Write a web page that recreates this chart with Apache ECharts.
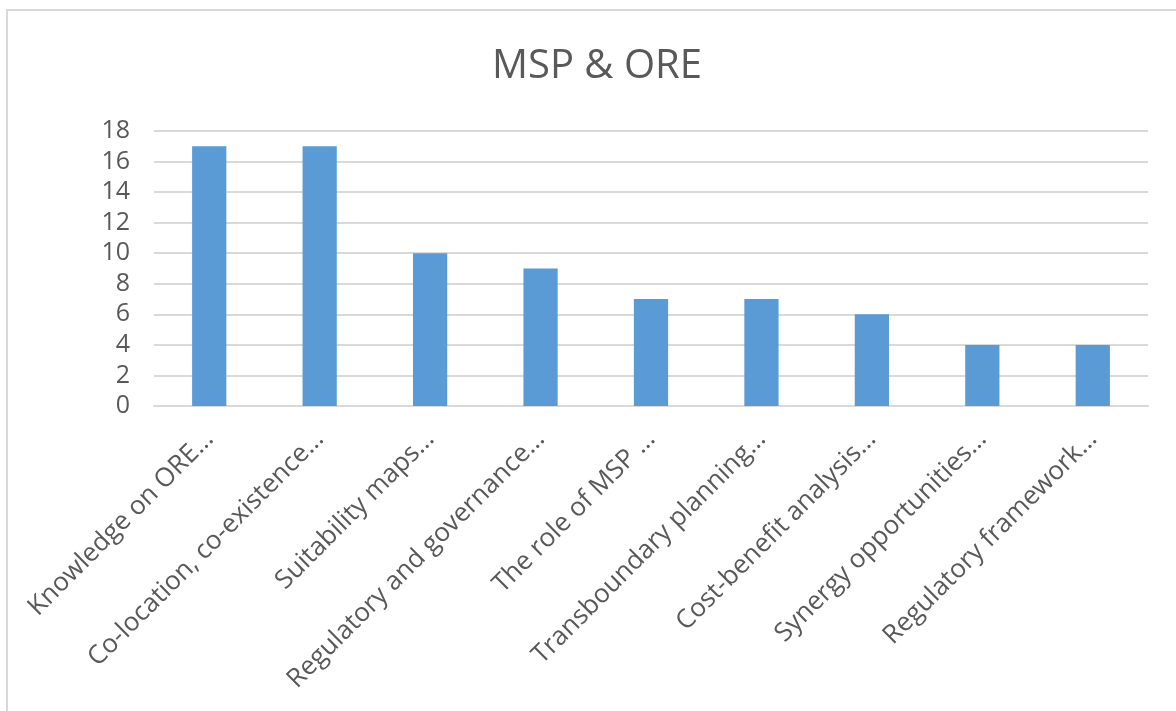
<!DOCTYPE html>
<html>
<head>
<meta charset="utf-8">
<script src="https://cdn.jsdelivr.net/npm/echarts@6/dist/echarts.min.js"></script>
<style>
html,body{margin:0;padding:0;background:#fff;}
#frame{position:absolute;left:6px;top:9px;width:1180px;height:720px;border:2px solid #d9d9d9;box-sizing:border-box;}
#chart{position:absolute;left:0;top:0;width:1176px;height:711px;}
</style>
</head>
<body>
<div id="frame"></div>
<div id="chart"></div>
<script>
var title = "MSP & ORE";
var categories = [
  "Knowledge on ORE…",
  "Co-location, co-existence…",
  "Suitability maps…",
  "Regulatory and governance…",
  "The role of MSP …",
  "Transboundary planning…",
  "Cost-benefit analysis…",
  "Synergy opportunities…",
  "Regulatory framework…"
];
var values = [17, 17, 10, 9, 7, 7, 6, 4, 4];
var yTicks = [0, 2, 4, 6, 8, 10, 12, 14, 16, 18];

var chart = echarts.init(document.getElementById('chart'), null, {renderer: 'canvas'});
chart.setOption({
  backgroundColor: 'transparent',
  animation: false,
  title: {
    text: title,
    left: 487,
    top: 42,
    textStyle: {fontFamily: 'Open Sans', fontSize: 40, fontWeight: 'normal', color: '#595959'}
  },
  grid: {left: 154, right: 28, top: 131, bottom: 305, containLabel: false},
  xAxis: {
    type: 'category',
    data: categories,
    axisLine: {lineStyle: {color: '#d9d9d9', width: 2}},
    axisTick: {show: false},
    axisLabel: {
      rotate: 45,
      interval: 0,
      margin: 29,
      fontFamily: 'Open Sans',
      fontSize: 26,
      color: '#595959'
    }
  },
  yAxis: {
    type: 'value',
    min: yTicks[0],
    max: yTicks[yTicks.length - 1],
    interval: 2,
    axisLine: {show: false},
    axisTick: {show: false},
    splitLine: {lineStyle: {color: '#d9d9d9', width: 2}},
    axisLabel: {
      margin: 24,
      fontFamily: 'Open Sans',
      fontSize: 25,
      color: '#595959'
    }
  },
  series: [{
    type: 'bar',
    data: values,
    barWidth: '31%',
    itemStyle: {color: '#5b9bd5'}
  }]
});
</script>
</body>
</html>
